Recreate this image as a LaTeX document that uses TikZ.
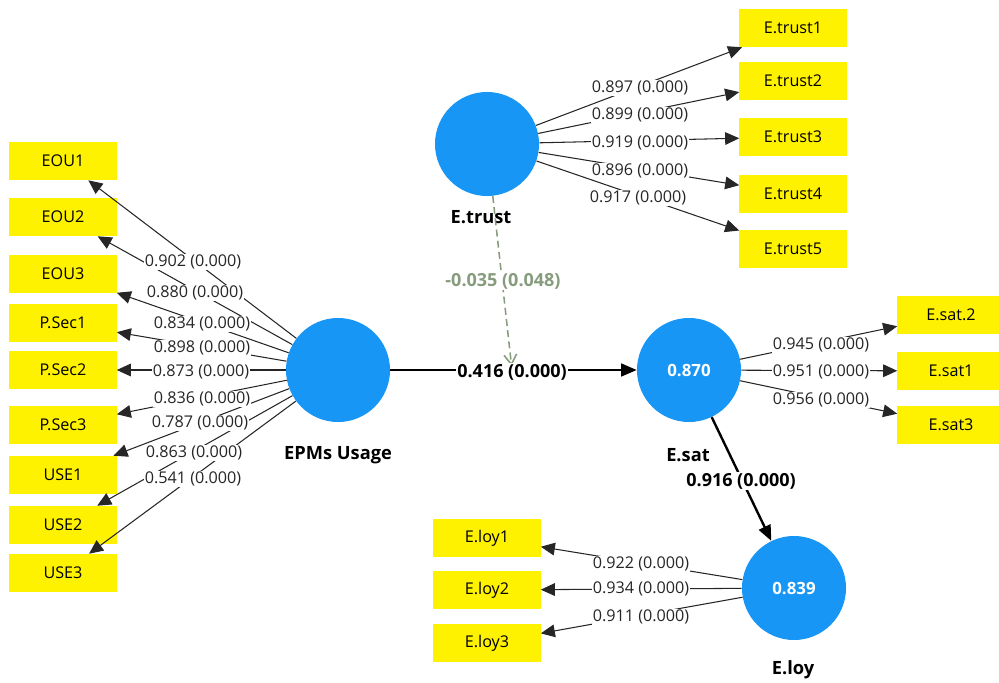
\documentclass[tikz,border=0pt]{standalone}
\usepackage{fontspec}
\setmainfont{Open Sans}
\usetikzlibrary{arrows.meta}
\definecolor{lvblue}{RGB}{24,150,245}
\definecolor{modgreen}{RGB}{135,155,125}
\begin{document}
\begin{tikzpicture}[x=0.025cm,y=-0.025cm, font=\fontsize{11.5}{13}\selectfont,
 ind/.style={fill=yellow, minimum width=2.675cm, minimum height=0.95cm, inner sep=0pt},
 lv/.style={circle, fill=lvblue, minimum size=2.6cm, inner sep=0pt, text=white, font=\fontsize{12}{14}\selectfont\bfseries},
 lvname/.style={font=\fontsize{13}{15}\selectfont\bfseries},
 load/.style={draw=black!85, line width=0.75pt, -{Triangle[length=10pt,width=9pt]}},
 lab/.style={fill=white, inner sep=0.6pt, text=black!85},
 pathline/.style={line width=1.7pt, -{Triangle[length=11pt,width=9pt]}},
 plab/.style={fill=white, inner sep=1pt, font=\fontsize{12.8}{14}\selectfont\bfseries},
 ]
\useasboundingbox (0,0) rectangle (999,683);

% latent variables
\node[lv] (epm) at (338,370) {};
\node[lvname] (epmname) at (338,455) {EPMs Usage};
\node[lv] (trust) at (487,144) {};
\node[lvname] (trustname) at (481,217) {E.trust};
\node[lv] (sat) at (689,370) {0.870};
\node[lvname] (satname) at (688,455) {E.sat};
\node[lv] (loy) at (794,588) {0.839};
\node[lvname] (loyname) at (793,670) {E.loy};

% EPMs Usage indicators
\node[ind] (eou1) at (63,161) {EOU1};
\node[ind] (eou2) at (63,217) {EOU2};
\node[ind] (eou3) at (63,274) {EOU3};
\node[ind] (psec1) at (63,323) {P.Sec1};
\node[ind] (psec2) at (63,370) {P.Sec2};
\node[ind] (psec3) at (63,425) {P.Sec3};
\node[ind] (use1) at (63,475) {USE1};
\node[ind] (use2) at (63,525) {USE2};
\node[ind] (use3) at (63,573) {USE3};

% E.trust indicators
\node[ind] (t1) at (793,28) {E.trust1};
\node[ind] (t2) at (793,81) {E.trust2};
\node[ind] (t3) at (793,137) {E.trust3};
\node[ind] (t4) at (793,194) {E.trust4};
\node[ind] (t5) at (793,249) {E.trust5};

% E.sat indicators
\node[ind] (s2) at (951,315) {E.sat.2};
\node[ind] (s1) at (951,371) {E.sat1};
\node[ind] (s3) at (951,425) {E.sat3};

% E.loy indicators
\node[ind] (l1) at (487,538) {E.loy1};
\node[ind] (l2) at (487,590) {E.loy2};
\node[ind] (l3) at (487,643) {E.loy3};

% loadings
\foreach \t in {eou1,eou2,eou3,psec1,psec2,psec3,use1,use2,use3}
  \draw[load] (epm) -- (\t);
\foreach \t in {t1,t2,t3,t4,t5}
  \draw[load] (trust) -- (\t);
\foreach \t in {s2,s1,s3}
  \draw[load] (sat) -- (\t);
\foreach \t in {l1,l2,l3}
  \draw[load] (loy) -- (\t);

% structural paths
\coordinate (mid) at (512,370);
\draw[pathline] (epm) -- (sat);
\draw[pathline] (sat) -- (loy);
\draw[modgreen, line width=1.1pt, dash pattern=on 5pt off 3pt, -{Straight Barb[length=7pt,width=9pt]}, shorten >=3pt] (trust) -- (mid);

% loading labels
\node[lab] (le1) at (193,262) {0.902 (0.000)};
\node[lab] (le2) at (195,293) {0.880 (0.000)};
\node[lab] (le3) at (202,324) {0.834 (0.000)};
\node[lab] (lp1) at (202,348) {0.898 (0.000)};
\node[lab] (lp2) at (201,372) {0.873 (0.000)};
\node[lab] (lp3) at (202,399) {0.836 (0.000)};
\node[lab] (lu1) at (200,423) {0.787 (0.000)};
\node[lab] (lu2) at (194,453) {0.863 (0.000)};
\node[lab] (lu3) at (193,479) {0.541 (0.000)};

\node[lab] (lt1) at (640,88) {0.897 (0.000)};
\node[lab] (lt2) at (640,115) {0.899 (0.000)};
\node[lab] (lt3) at (640,143) {0.919 (0.000)};
\node[lab] (lt4) at (640,171) {0.896 (0.000)};
\node[lab] (lt5) at (638,198) {0.917 (0.000)};

\node[lab] (ls2) at (821,345) {0.945 (0.000)};
\node[lab] (ls1) at (821,372) {0.951 (0.000)};
\node[lab] (ls3) at (821,400) {0.956 (0.000)};

\node[lab] (ll1) at (641,564) {0.922 (0.000)};
\node[lab] (ll2) at (641,589) {0.934 (0.000)};
\node[lab] (ll3) at (641,617) {0.911 (0.000)};

% path labels
\node[plab] (p1) at (512,372) {0.416 (0.000)};
\node[plab] (p2) at (741,481) {0.916 (0.000)};
\node[plab, text=modgreen] (p3) at (503,281) {-0.035 (0.048)};
\end{tikzpicture}
\end{document}
